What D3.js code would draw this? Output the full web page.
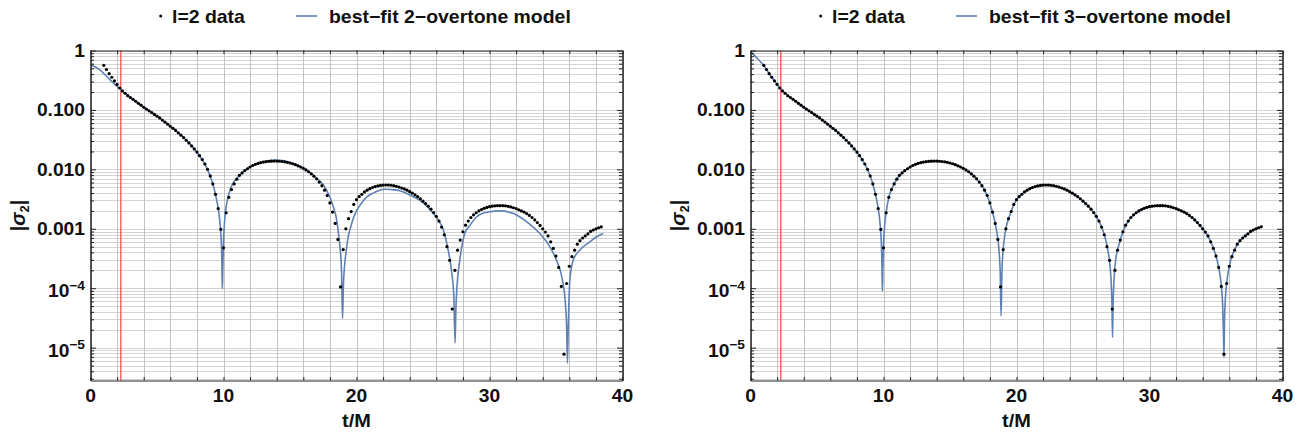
<!DOCTYPE html>
<html>
<head>
<meta charset="utf-8">
<script src="https://cdn.jsdelivr.net/npm/d3@7"></script>
<style>
  body { margin: 0; background: #fff; }
  text { font-family: "Liberation Sans", Arial, sans-serif; font-weight: bold; fill: #111; }
</style>
</head>
<body>
<svg id="chart" width="1304" height="436"></svg>
<script>
// l=2 data (t/M and |sigma_2|)
const dataT = [1.0,1.2,1.4,1.6,1.8,2.0,2.2,2.4,2.6,2.8,3.0,3.2,3.4,3.6,3.8,4.0,4.2,4.4,4.6,4.8,
  5.0,5.2,5.4,5.6,5.8,6.0,6.2,6.4,6.6,6.8,7.0,7.2,7.4,7.6,7.8,8.0,8.2,8.4,8.6,8.8,
  9.0,9.2,9.4,9.6,9.8,10.0,10.2,10.4,10.6,10.8,11.0,11.2,11.4,11.6,11.8,12.0,12.2,12.4,12.6,12.8,
  13.0,13.2,13.4,13.6,13.8,14.0,14.2,14.4,14.6,14.8,15.0,15.2,15.4,15.6,15.8,16.0,16.2,16.4,16.6,16.8,
  17.0,17.2,17.4,17.6,17.8,18.0,18.2,18.4,18.6,18.8,19.0,19.2,19.4,19.6,19.8,20.0,20.2,20.4,20.6,20.8,
  21.0,21.2,21.4,21.6,21.8,22.0,22.2,22.4,22.6,22.8,23.0,23.2,23.4,23.6,23.8,24.0,24.2,24.4,24.6,24.8,
  25.0,25.2,25.4,25.6,25.8,26.0,26.2,26.4,26.6,26.8,27.0,27.2,27.4,27.6,27.8,28.0,28.2,28.4,28.6,28.8,
  29.0,29.2,29.4,29.6,29.8,30.0,30.2,30.4,30.6,30.8,31.0,31.2,31.4,31.6,31.8,32.0,32.2,32.4,32.6,32.8,
  33.0,33.2,33.4,33.6,33.8,34.0,34.2,34.4,34.6,34.8,35.0,35.2,35.4,35.6,35.8,36.0,36.2,36.4,36.6,36.8,
  37.0,37.2,37.4,37.6,37.8,38.0,38.2,38.4];
const dataSigma = [0.562,0.479,0.407,0.355,0.309,0.269,0.234,0.209,0.191,0.174,
  0.162,0.151,0.140,0.129,0.120,0.111,0.1035,0.0966,0.0902,0.0841,
  0.0785,0.0733,0.0676,0.0624,0.0575,0.0531,0.0490,0.0452,0.0412,0.0376,
  0.0343,0.0309,0.0279,0.0248,0.0221,0.0195,0.0170,0.0146,0.0123,0.0100,
  0.00776,0.00569,0.00380,0.00219,0.000977,0.000479,0.00186,0.00339,0.00457,0.00569,
  0.00684,0.00794,0.00871,0.00955,0.01023,0.01096,0.01161,0.01216,0.01259,0.01297,
  0.01327,0.01349,0.01365,0.01374,0.01380,0.01377,0.01368,0.01355,0.01337,0.01312,
  0.01279,0.01242,0.01197,0.01148,0.01096,0.01040,0.00977,0.00912,0.00841,0.00767,
  0.00692,0.00610,0.00531,0.00447,0.00363,0.00272,0.00191,0.00123,0.000661,0.000105,
  0.000447,0.00100,0.00148,0.00195,0.00257,0.00309,0.00347,0.00380,0.00417,0.00447,
  0.00473,0.00495,0.00513,0.00527,0.00537,0.00543,0.00546,0.00545,0.00540,0.00531,
  0.00519,0.00504,0.00486,0.00468,0.00447,0.00422,0.00398,0.00372,0.00347,0.00320,
  0.00292,0.00266,0.00240,0.00214,0.00188,0.00162,0.00135,0.00107,0.000794,0.000501,
  0.000295,0.0000447,0.000200,0.000437,0.000646,0.000891,0.00115,0.00135,0.00155,0.00172,
  0.00186,0.00200,0.00211,0.00221,0.00229,0.00236,0.00240,0.00243,0.00245,0.00245,
  0.00245,0.00243,0.00239,0.00233,0.00226,0.00219,0.00209,0.00200,0.00191,0.00180,
  0.00168,0.00155,0.00141,0.00127,0.00114,0.00100,0.000881,0.000759,0.000603,0.000468,
  0.000347,0.000224,0.000107,0.00000776,0.000120,0.000234,0.000339,0.000437,0.000550,0.000631,
  0.000700,0.000759,0.000822,0.000902,0.000955,0.00100,0.00104,0.00108];

// best-fit 2-overtone model (left panel)
const model2T = [0,0.7,1.45,2.28,3.0,3.5,4.0,4.5,5.0,5.5,6.0,6.5,7.0,7.5,8.0,8.5,9.0,9.3,9.5,9.7,
  9.8,9.86,9.9,9.92,9.95,10.0,10.2,10.7,11.0,11.7,12.5,13.0,13.9,15.0,16.0,17.0,17.5,18.0,18.3,18.5,
  18.7,18.8,18.88,18.95,19.02,19.12,19.25,19.37,19.55,19.75,20.0,20.37,20.8,21.25,21.7,22.1,22.6,23.26,24.26,25.0,
  25.76,26.2,26.5,26.89,27.14,27.32,27.41,27.48,27.56,27.77,28.14,28.5,29.02,29.5,30.02,30.77,31.77,32.78,33.78,34.53,
  35.04,35.49,35.7,35.8,35.86,35.92,36.04,36.29,36.79,37.54,38.0,38.54];
const model2Sigma = [0.575,0.473,0.324,0.219,0.160,0.134,0.111,0.0934,0.0785,0.0650,0.0531,0.0432,0.0343,0.0263,0.0195,0.0134,0.00776,0.00468,0.00295,0.00151,
  0.00082,0.00041,0.000136,0.000098,0.00022,0.00062,0.00234,0.00575,0.0071,0.0100,0.0125,0.0135,0.01435,0.0132,0.0106,0.00708,0.0055,0.00339,0.00219,0.00145,
  0.00065,0.00039,0.00018,0.000031,0.00012,0.00026,0.00047,0.00072,0.00105,0.00148,0.0020,0.00269,0.00347,0.00398,0.00442,0.00462,0.00457,0.00437,0.00347,0.00275,
  0.00182,0.00135,0.00100,0.000437,0.000200,0.000071,0.000012,0.00005,0.00011,0.00030,0.00083,0.00112,0.00158,0.00182,0.00193,0.00200,0.00182,0.00132,0.000832,0.00050,
  0.000295,0.000135,0.000058,0.000022,0.0000055,0.000022,0.000135,0.000295,0.000437,0.00060,0.00072,0.00083];

// best-fit 3-overtone model (right panel)
const model3T = [0,0.5,1.0,1.5,2.0,2.5,3.0,3.5,4.0,4.5,5.0,5.5,6.0,6.5,7.0,7.5,8.0,8.5,9.0,9.3,
  9.5,9.7,9.8,9.86,9.9,9.92,9.95,10.0,10.1,10.2,10.4,10.7,11.0,11.5,12.0,12.5,13.0,14.0,15.0,15.5,
  16.0,16.5,17.0,17.5,18.0,18.3,18.5,18.6,18.7,18.78,18.84,18.9,19.0,19.1,19.2,19.5,20.0,20.5,21.0,22.0,
  23.0,24.0,25.0,26.0,26.5,26.8,27.0,27.1,27.18,27.22,27.26,27.35,27.5,27.7,28.0,28.5,29.0,30.0,31.0,32.0,
  33.0,34.0,34.5,35.0,35.2,35.4,35.5,35.56,35.6,35.64,35.7,35.8,36.0,36.5,37.0,37.5,38.0,38.5];
const model3Sigma = [0.97,0.741,0.556,0.380,0.269,0.200,0.162,0.135,0.111,0.0934,0.0785,0.0650,0.0531,0.0432,0.0343,0.0263,0.0195,0.0134,0.00776,0.00468,
  0.00295,0.00151,0.00082,0.00041,0.000136,0.000089,0.00020,0.00054,0.00122,0.0019,0.00339,0.00513,0.00684,0.00912,0.01096,0.0124,0.01327,0.01377,0.01279,0.0117,
  0.0104,0.0088,0.00692,0.0049,0.00272,0.00155,0.000933,0.00067,0.00039,0.00017,0.000034,0.00017,0.00045,0.00073,0.00100,0.0017,0.00309,0.0040,0.00473,0.00543,
  0.00519,0.00422,0.00292,0.00162,0.000933,0.000525,0.000275,0.00015,0.00005,0.0000148,0.00005,0.00016,0.00035,0.00054,0.000891,0.00145,0.00186,0.00236,0.00245,0.00219,
  0.00168,0.00100,0.000676,0.000347,0.000224,0.00011,0.000052,0.0000174,0.0000069,0.000029,0.000064,0.00012,0.000234,0.00049,0.00070,0.00086,0.00100,0.0011];

const xTickValues = [0,2,4,6,8,10,12,14,16,18,20,22,24,26,28,30,32,34,36,38,40];
const xTickLabels = [0,10,20,30,40];
const yMajorValues = [1,0.1,0.01,0.001,1e-4,1e-5];
const yMajorLabels = [["1",""],["0.100",""],["0.010",""],["0.001",""],["10","\u22124"],["10","\u22125"]];
const redLineT = 2.28;
const dataLabel = "l=2 data";
const modelLabels = ["best\u2212fit 2\u2212overtone model", "best\u2212fit 3\u2212overtone model"];

const svg = d3.select("#chart");
const blue = "#5e81b5";
const plotW = 532, plotTop = 50.5, plotBottom = 380.5;
const tickFont = 17.5;

const panels = [
  {left: 90.5, mt: model2T, ms: model2Sigma, label: modelLabels[0]},
  {left: 750.5, mt: model3T, ms: model3Sigma, label: modelLabels[1]}
];

function label(parent, x, y, str, size, anchor, sx) {
  return parent.append("g").attr("transform", `translate(${x},${y})`)
    .append("text").attr("transform", `scale(${sx},1)`)
    .attr("text-anchor", anchor).attr("font-size", size).text(str);
}

panels.forEach((p, i) => {
  const x = d3.scaleLinear().domain([0, 40]).range([p.left, p.left + plotW]);
  const y = d3.scaleLog().domain([2.8e-6, 1]).range([plotBottom, plotTop]);
  const g = svg.append("g");

  // grid
  g.append("g").selectAll("line").data(y.ticks()).join("line")
    .attr("x1", p.left).attr("x2", p.left + plotW)
    .attr("y1", d => Math.round(y(d)) + 0.5).attr("y2", d => Math.round(y(d)) + 0.5)
    .attr("stroke", "#d4d4d4").attr("stroke-width", 1);
  g.append("g").selectAll("line").data(xTickValues).join("line")
    .attr("x1", d => Math.round(x(d)) + 0.5).attr("x2", d => Math.round(x(d)) + 0.5)
    .attr("y1", plotTop).attr("y2", plotBottom)
    .attr("stroke", "#c2c2c2").attr("stroke-width", 1);

  // red marker line
  g.append("line")
    .attr("x1", x(redLineT)).attr("x2", x(redLineT))
    .attr("y1", plotTop).attr("y2", plotBottom)
    .attr("stroke", "#ff3030").attr("stroke-width", 1.1);

  // model curve
  const clipId = "clip" + i;
  svg.append("clipPath").attr("id", clipId).append("rect")
    .attr("x", p.left).attr("y", plotTop).attr("width", plotW).attr("height", plotBottom - plotTop);
  g.append("path").datum(p.mt.map((t, k) => [t, p.ms[k]]))
    .attr("clip-path", `url(#${clipId})`)
    .attr("fill", "none").attr("stroke", blue).attr("stroke-width", 1.6)
    .attr("stroke-linejoin", "round")
    .attr("d", d3.line().x(d => x(d[0])).y(d => y(d[1])).curve(d3.curveMonotoneX));

  // data points
  g.append("g").selectAll("circle").data(dataT.map((t, k) => [t, dataSigma[k]])).join("circle")
    .attr("cx", d => x(d[0])).attr("cy", d => y(d[1])).attr("r", 1.6).attr("fill", "#000");

  // frame with inward ticks
  const frameColor = "#222";
  const styleAxis = a => a.call(s => s.selectAll("path,line").attr("stroke", frameColor));
  g.append("g").attr("transform", `translate(0,${plotBottom})`)
    .call(d3.axisBottom(x).tickValues(xTickValues).tickSizeInner(-3.5).tickSizeOuter(0).tickFormat(""))
    .call(styleAxis);
  g.append("g").attr("transform", `translate(0,${plotTop})`)
    .call(d3.axisTop(x).tickValues(xTickValues).tickSizeInner(-3.5).tickSizeOuter(0).tickFormat(""))
    .call(styleAxis);
  const minor = y.ticks().filter(v => !yMajorValues.some(m => Math.abs(m - v) / m < 1e-6));
  [[d3.axisLeft, p.left], [d3.axisRight, p.left + plotW]].forEach(([ax, pos]) => {
    g.append("g").attr("transform", `translate(${pos},0)`)
      .call(ax(y).tickValues(minor).tickSizeInner(-3.5).tickSizeOuter(0).tickFormat(""))
      .call(styleAxis);
    g.append("g").attr("transform", `translate(${pos},0)`)
      .call(ax(y).tickValues(yMajorValues).tickSizeInner(-5.5).tickSizeOuter(0).tickFormat(""))
      .call(styleAxis);
  });

  // tick labels
  xTickLabels.forEach(v => label(g, x(v), 402, String(v), tickFont, "middle", 1.1));
  yMajorValues.forEach((v, k) => {
    const [base, sup] = yMajorLabels[k];
    if (!sup) {
      label(g, p.left - 5.5, y(v) + 6.3, base, tickFont, "end", 1.1);
    } else {
      const t = label(g, p.left - 5.5, y(v) + 9, "", tickFont, "end", 1.1);
      t.append("tspan").text(base);
      t.append("tspan").attr("font-size", 12.5).attr("dy", -7.5).text(sup);
    }
  });

  // axis titles
  const yl = g.append("text").attr("transform", `translate(${p.left - 66},${(plotTop + plotBottom) / 2}) rotate(-90)`)
    .attr("text-anchor", "middle").attr("font-size", 20);
  yl.append("tspan").text("|");
  yl.append("tspan").attr("font-style", "italic").text("\u03c3");
  yl.append("tspan").attr("font-size", 13).attr("dy", 4).text("2");
  yl.append("tspan").attr("dy", -4).text("|");
  label(g, p.left + plotW / 2, 427, "t/M", 18.5, "middle", 1.08);

  // legend
  g.append("circle").attr("cx", p.left + 70.2).attr("cy", 16).attr("r", 1.5).attr("fill", "#000");
  label(g, p.left + 81.5, 22.7, dataLabel, 18, "start", 1.08);
  g.append("line").attr("x1", p.left + 205.5).attr("x2", p.left + 226.5)
    .attr("y1", 16).attr("y2", 16).attr("stroke", blue).attr("stroke-width", 1.6);
  label(g, p.left + 238.5, 22.7, p.label, 18, "start", 1.08);
});
</script>
</body>
</html>
